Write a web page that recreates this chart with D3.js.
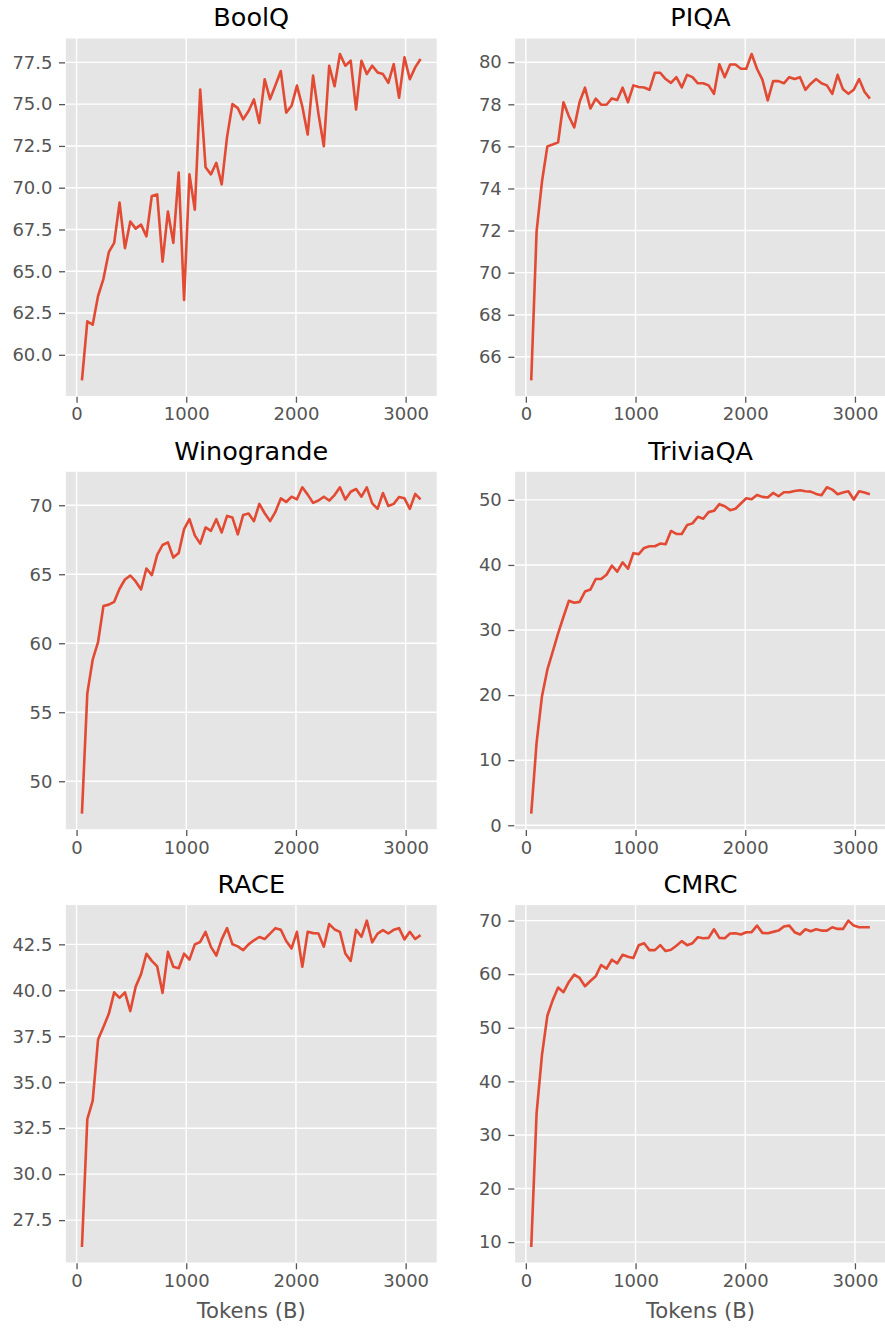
<!DOCTYPE html>
<html>
<head>
<meta charset="utf-8">
<script src="https://cdn.jsdelivr.net/npm/d3@7"></script>
<style>
    html, body { margin: 0; padding: 0; background: #fff; }
    svg { display: block; font-family: "DejaVu Sans", sans-serif; }
</style>
</head>
<body>
<div class="graph"></div>
<script>
"use strict";

var tokens = [
    49, 98, 147, 196, 245, 294, 343, 392, 441, 490,
    539, 588, 637, 686, 735, 784, 833, 882, 931, 980,
    1029, 1078, 1127, 1176, 1225, 1274, 1323, 1372, 1421, 1470,
    1519, 1568, 1617, 1666, 1715, 1764, 1813, 1862, 1911, 1960,
    2009, 2058, 2107, 2156, 2205, 2254, 2303, 2352, 2401, 2450,
    2499, 2548, 2597, 2646, 2695, 2744, 2793, 2842, 2891, 2940,
    2989, 3038, 3087, 3136
];

var boolq = [
    58.47, 62.0, 61.8, 63.52, 64.55, 66.14, 66.7, 69.11, 66.38, 67.98,
    67.55, 67.79, 67.09, 69.51, 69.6, 65.57, 68.58, 66.7, 70.9, 63.29,
    70.8, 68.68, 75.87, 71.22, 70.8, 71.49, 70.2, 73.04, 75.0, 74.76,
    74.09, 74.59, 75.28, 73.87, 76.49, 75.3, 76.13, 76.98, 74.49, 74.9,
    76.11, 74.86, 73.18, 76.71, 74.43, 72.48, 77.3, 76.07, 78.0, 77.3,
    77.6, 74.68, 77.6, 76.8, 77.3, 76.9, 76.8, 76.27, 77.4, 75.38,
    77.8, 76.49, 77.2, 77.7
];

var piqa = [
    64.88, 71.97, 74.33, 76.0, 76.09, 76.19, 78.1, 77.43, 76.9, 78.11,
    78.79, 77.8, 78.27, 77.98, 77.98, 78.28, 78.2, 78.79, 78.1, 78.9,
    78.82, 78.8, 78.69, 79.5, 79.5, 79.2, 79.02, 79.29, 78.8, 79.4,
    79.29, 79.0, 79.0, 78.9, 78.5, 79.9, 79.29, 79.89, 79.89, 79.69,
    79.69, 80.39, 79.69, 79.17, 78.19, 79.1, 79.1, 79.0, 79.29, 79.2,
    79.29, 78.69, 78.98, 79.2, 79.0, 78.9, 78.5, 79.4, 78.71, 78.5,
    78.69, 79.2, 78.6, 78.27
];

var winogrande = [
    47.65, 56.37, 58.81, 60.09, 62.7, 62.8, 63.0, 63.95, 64.62, 64.91,
    64.48, 63.9, 65.42, 64.94, 66.4, 67.12, 67.31, 66.21, 66.54, 68.27,
    68.99, 67.82, 67.22, 68.39, 68.15, 68.99, 68.03, 69.23, 69.11, 67.89,
    69.3, 69.4, 68.85, 70.1, 69.42, 68.85, 69.52, 70.5, 70.24, 70.62,
    70.43, 71.3, 70.77, 70.17, 70.34, 70.62, 70.34, 70.74, 71.3, 70.41,
    70.98, 71.18, 70.62, 71.3, 70.14, 69.74, 70.89, 69.95, 70.1, 70.6,
    70.5, 69.74, 70.82, 70.43
];

var triviaqa = [
    1.78, 12.72, 19.84, 23.91, 26.7, 29.5, 32.04, 34.49, 34.18, 34.33,
    35.91, 36.22, 37.84, 37.84, 38.5, 39.88, 38.96, 40.39, 39.42, 41.81,
    41.66, 42.62, 42.88, 42.88, 43.29, 43.18, 45.22, 44.76, 44.76, 46.13,
    46.39, 47.41, 47.1, 48.12, 48.32, 49.34, 49.03, 48.42, 48.63, 49.44,
    50.25, 50.1, 50.76, 50.46, 50.36, 51.07, 50.56, 51.17, 51.17, 51.37,
    51.48, 51.32, 51.27, 50.92, 50.71, 51.93, 51.58, 50.86, 51.12, 51.32,
    50.05, 51.32, 51.12, 50.86
];

var race = [
    26.04, 33.0, 33.99, 37.32, 38.0, 38.72, 39.89, 39.59, 39.89, 38.87,
    40.2, 40.88, 41.99, 41.6, 41.3, 39.86, 42.09, 41.28, 41.2, 41.99,
    41.67, 42.5, 42.63, 43.18, 42.36, 41.89, 42.77, 43.38, 42.5, 42.39,
    42.18, 42.5, 42.72, 42.9, 42.79, 43.08, 43.38, 43.29, 42.68, 42.28,
    43.18, 41.28, 43.18, 43.11, 43.09, 42.37, 43.6, 43.31, 43.18, 42.0,
    41.6, 43.29, 42.91, 43.79, 42.61, 43.08, 43.27, 43.09, 43.29, 43.38,
    42.77, 43.18, 42.79, 43.0
];

var cmrc = [
    9.09, 34.13, 44.95, 52.25, 55.16, 57.51, 56.64, 58.56, 59.92, 59.3,
    57.76, 58.74, 59.61, 61.71, 61.03, 62.7, 62.02, 63.63, 63.26, 63.01,
    65.42, 65.79, 64.5, 64.5, 65.42, 64.31, 64.56, 65.3, 66.17, 65.42,
    65.79, 66.91, 66.72, 66.78, 68.39, 66.78, 66.72, 67.59, 67.65, 67.4,
    67.84, 67.84, 69.07, 67.71, 67.65, 67.9, 68.14, 68.89, 69.07, 67.84,
    67.4, 68.39, 68.02, 68.39, 68.14, 68.14, 68.76, 68.45, 68.45, 70.0,
    69.07, 68.76, 68.76, 68.76
];

var xTicks = [0, 1000, 2000, 3000];
var boolqTicks = [60, 62.5, 65, 67.5, 70, 72.5, 75, 77.5];
var piqaTicks = [66, 68, 70, 72, 74, 76, 78, 80];
var winograndeTicks = [50, 55, 60, 65, 70];
var triviaqaTicks = [0, 10, 20, 30, 40, 50];
var raceTicks = [27.5, 30, 32.5, 35, 37.5, 40, 42.5];
var cmrcTicks = [10, 20, 30, 40, 50, 60, 70];

var titles = ["BoolQ", "PIQA", "Winogrande", "TriviaQA", "RACE", "CMRC"];
var xLabel = "Tokens (B)";

var panels = [
    { title: titles[0], values: boolq, ticks: boolqTicks },
    { title: titles[1], values: piqa, ticks: piqaTicks },
    { title: titles[2], values: winogrande, ticks: winograndeTicks },
    { title: titles[3], values: triviaqa, ticks: triviaqaTicks },
    { title: titles[4], values: race, ticks: raceTicks },
    { title: titles[5], values: cmrc, ticks: cmrcTicks }
];

var WIDTH = 885;
var HEIGHT = 1328;
var colLeft = [65, 514.3];
var rowTop = [37.7, 471, 904.3];
var panelWidth = 372.5;
var panelHeight = 359;

var LINE_COLOR = "#E24A33";
var BG_COLOR = "#E5E5E5";
var TEXT_GRAY = "#555555";
var TICK_FONT = 18;

// matplotlib style autoscale: data extent padded by 5% each side
function padded(extent) {
    var pad = (extent[1] - extent[0]) * 0.05;
    return [extent[0] - pad, extent[1] + pad];
}

var svg = d3.select(".graph").append("svg")
    .attr("width", WIDTH)
    .attr("height", HEIGHT);

function drawPanel(panel, index) {
    var col = index % 2;
    var row = Math.floor(index / 2);
    var left = colLeft[col];
    var top = rowTop[row];

    var xScale = d3.scaleLinear().domain(padded(d3.extent(tokens))).range([0, panelWidth]);
    var yScale = d3.scaleLinear().domain(padded(d3.extent(panel.values))).range([panelHeight, 0]);

    var decimals = panel.ticks.some(function (t) { return t % 1 !== 0; });
    var yFormat = decimals ? d3.format(".1f") : d3.format("d");

    var g = svg.append("g").attr("transform", "translate(" + left + "," + top + ")");

    g.append("rect")
        .attr("width", panelWidth)
        .attr("height", panelHeight)
        .attr("fill", BG_COLOR);

    g.selectAll(".ygrid").data(panel.ticks).enter().append("line")
        .attr("x1", 0).attr("x2", panelWidth)
        .attr("y1", function (d) { return yScale(d); })
        .attr("y2", function (d) { return yScale(d); })
        .attr("stroke", "#fff").attr("stroke-width", 1.4);

    g.selectAll(".xgrid").data(xTicks).enter().append("line")
        .attr("y1", 0).attr("y2", panelHeight)
        .attr("x1", function (d) { return xScale(d); })
        .attr("x2", function (d) { return xScale(d); })
        .attr("stroke", "#fff").attr("stroke-width", 1.4);

    var line = d3.line()
        .x(function (d, i) { return xScale(tokens[i]); })
        .y(function (d) { return yScale(d); });

    g.append("path")
        .datum(panel.values)
        .attr("d", line)
        .attr("fill", "none")
        .attr("stroke", LINE_COLOR)
        .attr("stroke-width", 2.6)
        .attr("stroke-linejoin", "round");

    g.append("rect")
        .attr("width", panelWidth)
        .attr("height", panelHeight)
        .attr("fill", "none")
        .attr("stroke", "#fff")
        .attr("stroke-width", 1.6);

    var yAxis = d3.axisLeft(yScale)
        .tickValues(panel.ticks)
        .tickFormat(yFormat)
        .tickSize(6)
        .tickPadding(6.5);
    var xAxis = d3.axisBottom(xScale)
        .tickValues(xTicks)
        .tickFormat(d3.format("d"))
        .tickSize(6)
        .tickPadding(5);

    [g.append("g").call(yAxis),
     g.append("g").attr("transform", "translate(0," + panelHeight + ")").call(xAxis)]
        .forEach(function (ax) {
            ax.select(".domain").remove();
            ax.selectAll(".tick line").attr("stroke", TEXT_GRAY).attr("stroke-width", 1.3);
            ax.selectAll(".tick text")
                .attr("fill", TEXT_GRAY)
                .style("font-size", TICK_FONT + "px")
                .style("font-family", "'DejaVu Sans', sans-serif");
        });

    g.append("text")
        .attr("x", panelWidth / 2)
        .attr("y", -11.5)
        .attr("text-anchor", "middle")
        .attr("fill", "#000")
        .style("font-size", "25.5px")
        .text(panel.title);

    if (row === rowTop.length - 1) {
        g.append("text")
            .attr("x", panelWidth / 2)
            .attr("y", panelHeight + 55)
            .attr("text-anchor", "middle")
            .attr("fill", TEXT_GRAY)
            .style("font-size", "21.2px")
            .text(xLabel);
    }
}

panels.forEach(drawPanel);
</script>
</body>
</html>
